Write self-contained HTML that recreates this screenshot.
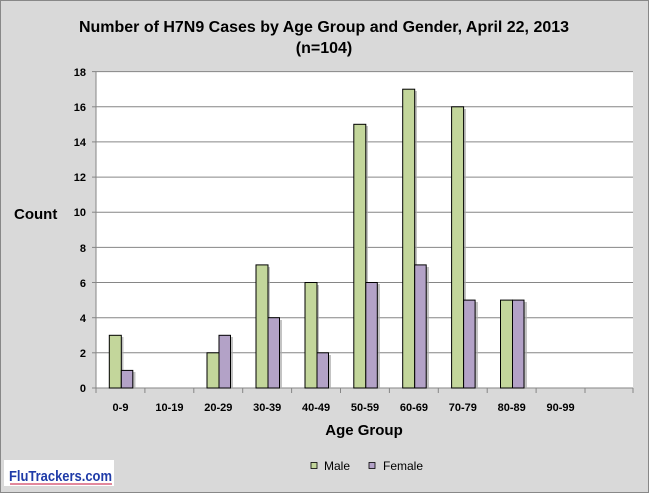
<!DOCTYPE html>
<html><head><meta charset="utf-8"><style>
body{margin:0;background:#fff}
svg{display:block;font-family:"Liberation Sans",sans-serif}
</style></head><body>
<svg width="649" height="493" viewBox="0 0 649 493" xmlns="http://www.w3.org/2000/svg">
<rect x="0.5" y="0.5" width="648" height="492" fill="#d9d9d9" stroke="#888"/>
<text x="324" y="32" text-anchor="middle" font-size="16" font-weight="bold" textLength="490" lengthAdjust="spacingAndGlyphs">Number of H7N9 Cases by Age Group and Gender, April 22, 2013</text>
<text x="324" y="53" text-anchor="middle" font-size="16" font-weight="bold">(n=104)</text>
<rect x="96" y="71.6" width="537" height="316.4" fill="#fff"/>
<g stroke="#868686" stroke-width="1">
<line x1="96" x2="633" y1="71.6" y2="71.6"/>
<line x1="96" x2="633" y1="106.8" y2="106.8"/>
<line x1="96" x2="633" y1="141.9" y2="141.9"/>
<line x1="96" x2="633" y1="177.1" y2="177.1"/>
<line x1="96" x2="633" y1="212.2" y2="212.2"/>
<line x1="96" x2="633" y1="247.4" y2="247.4"/>
<line x1="96" x2="633" y1="282.5" y2="282.5"/>
<line x1="96" x2="633" y1="317.7" y2="317.7"/>
<line x1="96" x2="633" y1="352.8" y2="352.8"/>
<line x1="96" x2="633" y1="388" y2="388"/>
<line x1="96" x2="96" y1="71.6" y2="388"/>
<line x1="92" x2="96" y1="71.6" y2="71.6"/><line x1="92" x2="96" y1="106.8" y2="106.8"/><line x1="92" x2="96" y1="141.9" y2="141.9"/><line x1="92" x2="96" y1="177.1" y2="177.1"/><line x1="92" x2="96" y1="212.2" y2="212.2"/><line x1="92" x2="96" y1="247.4" y2="247.4"/><line x1="92" x2="96" y1="282.5" y2="282.5"/><line x1="92" x2="96" y1="317.7" y2="317.7"/><line x1="92" x2="96" y1="352.8" y2="352.8"/><line x1="92" x2="96" y1="388" y2="388"/>
<line x1="96" x2="96" y1="388" y2="393"/><line x1="144.9" x2="144.9" y1="388" y2="393"/><line x1="193.8" x2="193.8" y1="388" y2="393"/><line x1="242.7" x2="242.7" y1="388" y2="393"/><line x1="291.6" x2="291.6" y1="388" y2="393"/><line x1="340.5" x2="340.5" y1="388" y2="393"/><line x1="389.4" x2="389.4" y1="388" y2="393"/><line x1="438.3" x2="438.3" y1="388" y2="393"/><line x1="487.2" x2="487.2" y1="388" y2="393"/><line x1="536.1" x2="536.1" y1="388" y2="393"/><line x1="585" x2="585" y1="388" y2="393"/><line x1="633" x2="633" y1="388" y2="393"/>
</g>
<g font-size="11" font-weight="bold" text-anchor="end">
<text x="86" y="76">18</text><text x="86" y="111">16</text><text x="86" y="146">14</text><text x="86" y="181">12</text><text x="86" y="216">10</text><text x="86" y="252">8</text><text x="86" y="287">6</text><text x="86" y="322">4</text><text x="86" y="357">2</text><text x="86" y="392">0</text>
</g>
<g font-size="11" font-weight="bold" text-anchor="middle">
<text x="120.5" y="411">0-9</text><text x="169.4" y="411">10-19</text><text x="218.3" y="411">20-29</text><text x="267.2" y="411">30-39</text><text x="316.1" y="411">40-49</text><text x="365" y="411">50-59</text><text x="413.9" y="411">60-69</text><text x="462.8" y="411">70-79</text><text x="511.7" y="411">80-89</text><text x="560.6" y="411">90-99</text>
</g>
<g stroke="#000" stroke-width="1">
<g fill="#aaa" stroke="none" opacity="0.7">
<rect x="111.5" y="337" width="12" height="51"/><rect x="123.5" y="372" width="12" height="16"/>
<rect x="209" y="355" width="12" height="33"/><rect x="221" y="337" width="12" height="51"/>
<rect x="258" y="267" width="12" height="121"/><rect x="270" y="320" width="12" height="68"/>
<rect x="307" y="285" width="12" height="103"/><rect x="319" y="355" width="12" height="33"/>
<rect x="356" y="126" width="12" height="262"/><rect x="368" y="284" width="12" height="104"/>
<rect x="405" y="91" width="12" height="297"/><rect x="417" y="267" width="12" height="121"/>
<rect x="454" y="109" width="12" height="279"/><rect x="466" y="302" width="12" height="86"/>
<rect x="503" y="302" width="12" height="86"/><rect x="515" y="302" width="12" height="86"/>
</g>
<g fill="#c3d69b">
<rect x="109.3" y="335.3" width="12" height="52.7"/>
<rect x="207" y="352.8" width="12" height="35.2"/>
<rect x="256" y="264.9" width="12" height="123.1"/>
<rect x="305" y="282.5" width="12" height="105.5"/>
<rect x="353.8" y="124.3" width="12" height="263.7"/>
<rect x="402.7" y="89.2" width="12" height="298.8"/>
<rect x="451.6" y="106.8" width="12" height="281.2"/>
<rect x="500.5" y="300.1" width="12" height="87.9"/>
</g>
<g fill="#b3a2c7">
<rect x="121.3" y="370.4" width="11.5" height="17.6"/>
<rect x="219" y="335.3" width="11.5" height="52.7"/>
<rect x="268" y="317.7" width="11.5" height="70.3"/>
<rect x="317" y="352.8" width="11.5" height="35.2"/>
<rect x="365.8" y="282.5" width="11.5" height="105.5"/>
<rect x="414.7" y="264.9" width="11.5" height="123.1"/>
<rect x="463.6" y="300.1" width="11.5" height="87.9"/>
<rect x="512.5" y="300.1" width="11.5" height="87.9"/>
</g>
</g>
<text x="14" y="219" font-size="15" font-weight="bold">Count</text>
<text x="364" y="435" text-anchor="middle" font-size="15" font-weight="bold">Age Group</text>
<rect x="311" y="462.5" width="6" height="6" fill="#c3d69b" stroke="#000" stroke-width="0.8"/>
<text x="324" y="470" font-size="12">Male</text>
<rect x="369" y="462.5" width="6" height="6" fill="#b3a2c7" stroke="#000" stroke-width="0.8"/>
<text x="383" y="470" font-size="12">Female</text>
<rect x="4" y="460" width="110" height="26" fill="#fff"/>
<text x="9" y="481" font-size="15" font-weight="bold" fill="#1f3ba8" textLength="103" lengthAdjust="spacingAndGlyphs">FluTrackers.com</text>
<line x1="10" x2="112" y1="484" y2="484" stroke="#d04060" stroke-width="1.2"/>
</svg>
</body></html>
